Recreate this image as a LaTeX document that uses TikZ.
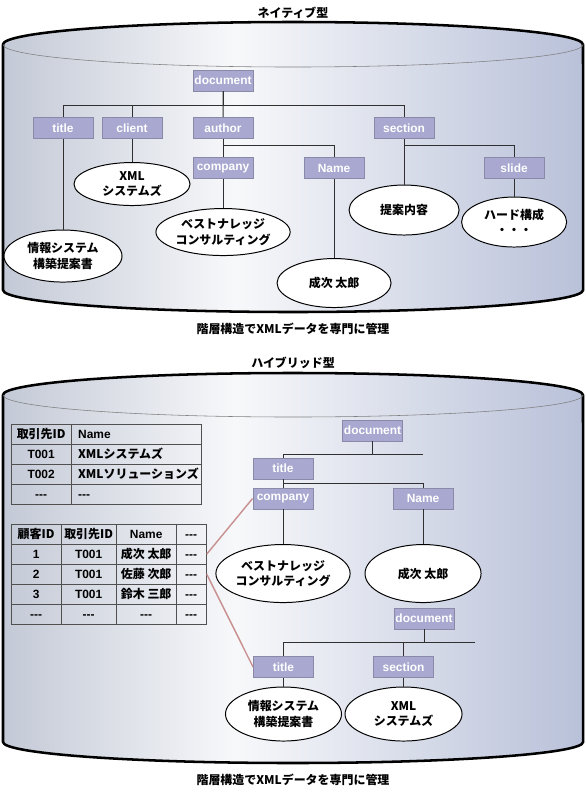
\documentclass[tikz,border=0pt]{standalone}
\usepackage{fontspec}
\setmainfont{Liberation Sans}
\newfontfamily\jp{Noto Sans CJK JP}
\usetikzlibrary{shapes,arrows,matrix}

\definecolor{elemfill}{HTML}{A8A8D0}
\definecolor{elemline}{HTML}{8A8AA8}
\definecolor{drumleft}{HTML}{C3C9D6}
\definecolor{drummid}{HTML}{F7F8FA}
\definecolor{drumright}{HTML}{B9C1D9}
\definecolor{linkpink}{HTML}{C89090}
\definecolor{gridline}{HTML}{505050}
\definecolor{treeline}{HTML}{303030}
\pgfdeclarehorizontalshading{drum}{100bp}{color(0bp)=(drumleft); color(25bp)=(drumleft);
  color(45bp)=(drummid); color(75bp)=(drumright); color(100bp)=(drumright)}

\begin{document}
\begin{tikzpicture}[x=0.025cm, y=-0.025cm, semithick]
  \tikzstyle{element} = [rectangle, draw=elemline, fill=elemfill, text=white,
    font=\bfseries\fontsize{8.5}{10}\selectfont, minimum width=1.5cm,
    minimum height=0.525cm, inner sep=0pt]
  \tikzstyle{value} = [ellipse, draw, fill=white, line width=0.7pt, align=center,
    font=\jp\bfseries\fontsize{8.5}{11}\selectfont, inner sep=0pt]
  \tikzstyle{caption} = [font=\jp\bfseries\fontsize{8.5}{10}\selectfont]
  \tikzstyle{datatable} = [matrix of nodes, inner sep=0pt, line width=0.8pt,
    row sep=-0.8pt, column sep=-0.8pt,
    nodes={rectangle, draw=gridline, minimum height=0.5cm, text height=1.6ex,
      text depth=0.45ex, inner sep=0pt, anchor=center,
      font=\bfseries\fontsize{8.5}{10}\selectfont}]
  \tikzstyle{drumedge} = [line width=1.8pt, line join=round]
  \tikzstyle{backline} = [draw=gray, line width=0.4pt]
  \tikzstyle{line} = [draw=treeline, line width=0.7pt]
  \tikzstyle{link} = [draw=linkpink, line width=1pt]

  \useasboundingbox (0,0) rectangle (586,798);

  % Drums
  \shadedraw [shading=drum, drumedge] (3,44.5) -- (3,290)
    arc [start angle=180, end angle=360, x radius=7.25cm, y radius=0.55cm]
    -- (583,44.5)
    arc [start angle=0, end angle=180, x radius=7.25cm, y radius=0.5625cm] -- cycle;
  \path [backline] (3,44.5)
    arc [start angle=180, end angle=360, x radius=7.25cm, y radius=0.5625cm];

  \shadedraw [shading=drum, drumedge] (3,395) -- (3,742)
    arc [start angle=180, end angle=360, x radius=7.25cm, y radius=0.525cm]
    -- (583,395)
    arc [start angle=0, end angle=180, x radius=7.25cm, y radius=0.55cm] -- cycle;
  \path [backline] (3,395)
    arc [start angle=180, end angle=360, x radius=7.25cm, y radius=0.55cm];

  % Captions
  \node [caption] (native) at (293,12.5) {ネイティブ型};
  \node [caption] (nativenote) at (293,329) {階層構造でXMLデータを専門に管理};
  \node [caption] (hybrid) at (293,363) {ハイブリッド型};
  \node [caption] (hybridnote) at (293,780) {階層構造でXMLデータを専門に管理};

  % Place nodes: native tree
  \node [element] (doc1) at (223,80.5) {document};
  \node [element] (title1) at (63,128) {title};
  \node [element, right of=title1, node distance=1.725cm] (client1) {client};
  \node [element, right of=client1, node distance=2.275cm] (author1) {author};
  \node [element, right of=author1, node distance=4.525cm] (section1) {section};
  \node [element, below of=author1, node distance=1cm] (company1) {company};
  \node [element, right of=company1, node distance=2.775cm] (name1) {Name};
  \node [element, right of=name1, node distance=4.5cm] (slide1) {slide};

  \node [value, below of=title1, node distance=3.2cm, minimum width=2.95cm,
    minimum height=1.3cm] (info1) {情報システム\\構築提案書};
  \node [value, below of=client1, node distance=1.4cm, minimum width=2.9cm,
    minimum height=1.075cm] (xml1) {XML\\システムズ};
  \node [value, below of=company1, node distance=1.6cm, minimum width=2.675cm,
    minimum height=1.175cm] (best1) {ベストナレッジ\\コンサルティング};
  \node [value, below of=name1, node distance=2.875cm, minimum width=2.85cm,
    minimum height=1.225cm] (seiji1) {成次 太郎};
  \node [value, below of=section1, node distance=2.05cm, minimum width=2.75cm,
    minimum height=1.25cm] (teian1) {提案内容};
  \node [value, below of=slide1, node distance=1.35cm, minimum width=2.625cm,
    minimum height=1.25cm] (hard1) {ハード構成\\・・・};

  % Place nodes: hybrid tables
  \matrix [datatable, anchor=north west,
    column 1/.style={nodes={minimum width=1.5cm}},
    column 2/.style={nodes={text width=2.9cm, align=left, inner xsep=0.175cm}}]
    (firms) at (10,423) {
    \jp 取引先ID & Name \\
    T001 & \jp XMLシステムズ \\
    T002 & \jp XMLソリューションズ \\
    {-}{-}{-} & {-}{-}{-} \\
  };
  \matrix [datatable, anchor=north west,
    column 1/.style={nodes={minimum width=1.25cm}},
    column 2/.style={nodes={minimum width=1.375cm}},
    column 3/.style={nodes={minimum width=1.5cm}},
    column 4/.style={nodes={minimum width=0.75cm}}]
    (customers) at (10,523) {
    \jp 顧客ID & \jp 取引先ID & Name & {-}{-}{-} \\
    1 & T001 & \jp 成次 太郎 & {-}{-}{-} \\
    2 & T001 & \jp 佐藤 次郎 & {-}{-}{-} \\
    3 & T001 & \jp 鈴木 三郎 & {-}{-}{-} \\
    {-}{-}{-} & {-}{-}{-} & {-}{-}{-} & {-}{-}{-} \\
  };

  % Place nodes: hybrid trees
  \node [element] (doc2) at (372.5,430.5) {document};
  \node [element] (title2) at (283,468.5) {title};
  \node [element, below of=title2, node distance=0.75cm] (company2) {company};
  \node [element, right of=company2, node distance=3.5cm] (name2) {Name};
  \node [value, below of=company2, node distance=1.875cm, minimum width=2.9cm,
    minimum height=1.45cm] (best2) {ベストナレッジ\\コンサルティング};
  \node [value, below of=name2, node distance=1.875cm, minimum width=2.9cm,
    minimum height=1.45cm] (seiji2) {成次 太郎};
  \coordinate (cut2) at (423,454);

  \node [element] (doc3) at (424,618.5) {document};
  \node [element] (title3) at (283.5,667) {title};
  \node [element, right of=title3, node distance=3cm] (section3) {section};
  \node [value, below of=title3, node distance=1.175cm, minimum width=2.9cm,
    minimum height=1.35cm] (info3) {情報システム\\構築提案書};
  \node [value, below of=section3, node distance=1.175cm, minimum width=2.925cm,
    minimum height=1.35cm] (xml3) {XML\\システムズ};
  \coordinate (cut3) at (475,642);

  % Draw edges
  \path [line] (doc1) -- ++(0,24.5) -| (title1);
  \path [line] (doc1) -- ++(0,24.5) -| (client1);
  \path [line] (doc1) -- (author1);
  \path [line] (doc1) -- ++(0,24.5) -| (section1);

  \path [line] (author1) -- (company1);
  \path [line] (author1) -- ++(0,17) -| (name1);
  \path [line] (section1) -- ++(0,17) -| (slide1);

  \path [line] (title1) -- (info1);
  \path [line] (client1) -- (xml1);
  \path [line] (company1) -- (best1);
  \path [line] (name1) -- (seiji1);
  \path [line] (section1) -- (teian1);
  \path [line] (slide1) -- (hard1);

  \path [line] (doc2) |- (cut2);
  \path [line] (cut2) -| (title2);
  \path [line] (title2) -- (company2);
  \path [line] (title2) -- ++(0,14.5) -| (name2);
  \path [line] (company2) -- (best2);
  \path [line] (name2) -- (seiji2);

  \path [line] (doc3) |- (cut3);
  \path [line] (cut3) -| (title3);
  \path [line] (cut3) -| (section3);
  \path [line] (title3) -- (info3);
  \path [line] (section3) -- (xml3);

  \path [link] (customers-2-4.east) -- (company2.west);
  \path [link] (customers-3-4.east) -- (title3.west);

\end{tikzpicture}
\end{document}
